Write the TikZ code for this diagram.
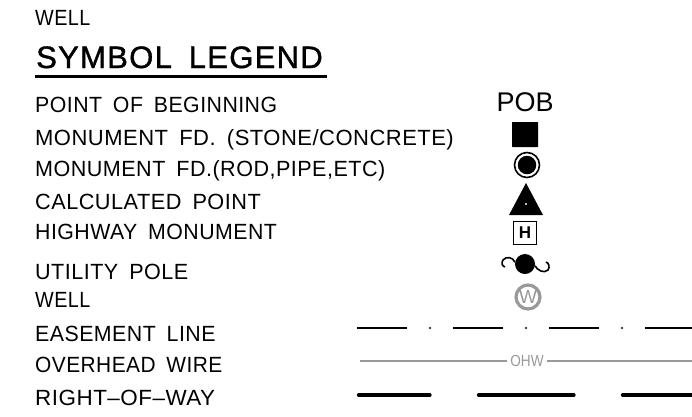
\documentclass[tikz,border=0pt]{standalone}
\usepackage{fontspec}
\setmainfont{Liberation Sans}
\newfontfamily\legendfont[LetterSpace=2.2,WordSpace=1.7]{Liberation Sans}
\newfontfamily\titlefont[LetterSpace=4.2,WordSpace=1.7,FakeBold=1.2]{Liberation Sans}
\usepackage{xcolor}
\definecolor{symbolgray}{HTML}{999999}

\begin{document}
\begin{tikzpicture}[x=1pt,y=-1pt]
		\tikzstyle{rowlabel} = [anchor=base west, inner sep=0pt, font=\legendfont\fontsize{22}{22}\selectfont]
		\tikzstyle{titlelabel} = [anchor=base west, inner sep=0pt, font=\titlefont\fontsize{31}{31}\selectfont]
		\tikzstyle{easeline} = [draw, line width=1.6pt]
		\tikzstyle{wireline} = [draw, symbolgray, line width=1.2pt]
		\tikzstyle{rowline} = [draw, line width=3.2pt, line cap=round]
		\useasboundingbox (0,0) rectangle (692,416);

		% Heading
		\node [rowlabel, xscale=0.9] (wellhead) at (35,25) {WELL};
		\node [titlelabel] (title) at (36,68) {SYMBOL LEGEND};
		\draw [line width=3pt] (35,76) -- (327,76);

		% Labels
		\node [rowlabel, xscale=0.968] (pob) at (35,112) {POINT OF BEGINNING};
		\node [rowlabel] (stone) at (35,145) {MONUMENT FD. (STONE/CONCRETE)};
		\node [rowlabel, xscale=0.98] (rod) at (35,176) {MONUMENT FD.(ROD,PIPE,ETC)};
		\node [rowlabel, xscale=0.987] (calc) at (35,209) {CALCULATED POINT};
		\node [rowlabel, xscale=0.968] (highway) at (35,239) {HIGHWAY MONUMENT};
		\node [rowlabel, xscale=0.98] (utility) at (35,279) {UTILITY POLE};
		\node [rowlabel, xscale=0.9] (well) at (35,307) {WELL};
		\node [rowlabel, xscale=0.97] (easement) at (35,341) {EASEMENT LINE};
		\node [rowlabel, xscale=0.95] (overhead) at (35,372) {OVERHEAD WIRE};
		\node [rowlabel, xscale=1.02] (row) at (35,405) {RIGHT–OF–WAY};

		% Symbols
		\node [inner sep=0pt, font=\fontsize{27}{27}\selectfont] (pobsym) at (525,102) {POB};
		\node [fill=black, rounded corners=0.5pt, minimum width=26pt, minimum height=25pt, inner sep=0pt] (stonesym) at (525,134.5) {};
		\node [circle, draw, line width=1.6pt, minimum size=25pt, inner sep=0pt] (rodsym) at (527,165) {};
		\node [circle, fill=black, minimum size=18.5pt, inner sep=0pt] (roddot) at (527,165) {};
		\fill (526,183) -- (543,215) -- (509,215) -- cycle;
		\fill [white] (526,204) circle (1.2pt);
		\node [draw, line width=1.4pt, minimum width=23pt, minimum height=23pt, inner sep=0pt, font=\bfseries\fontsize{17}{17}\selectfont] (hwysym) at (525,233) {H};
		\node [circle, fill=black, minimum size=20pt, inner sep=0pt] (polesym) at (525,264) {};
		\draw [line width=1.6pt] (polesym.170) .. controls (513,257) and (506,256) .. (503,260) .. controls (501,263) and (502,266) .. (505,267);
		\draw [line width=1.6pt] (polesym.-10) .. controls (537,270) and (544,274) .. (548,270) .. controls (550,267) and (549,263) .. (546,262);
		\node [circle, draw=symbolgray, line width=3.2pt, text=symbolgray, minimum size=24pt, inner sep=0pt, font=\fontsize{19}{19}\selectfont] (wellsym) at (528,297) {W};

		% Easement line
		\draw [easeline] (357,328) -- (407,328);
		\fill (430,328) circle (1.2pt);
		\draw [easeline] (453,328) -- (503,328);
		\fill (526,328) circle (1.2pt);
		\draw [easeline] (549,328) -- (599,328);
		\fill (622,328) circle (1.2pt);
		\draw [easeline] (645,328) -- (692,328);

		% Overhead wire
		\node [inner sep=0pt, text=symbolgray, xscale=0.85, font=\fontsize{16}{16}\selectfont] (ohw) at (527,361) {OHW};
		\coordinate (wirea) at (360,361);
		\coordinate (wireb) at (692,361);
		\draw [wireline] (wirea) -- ([xshift=-3pt]ohw.west);
		\draw [wireline] ([xshift=3pt]ohw.east) -- (wireb);

		% Right of way
		\draw [rowline] (358.5,395) -- (430,395);
		\draw [rowline] (478.5,395) -- (574,395);
		\draw [rowline] (622.5,395) -- (692,395);
\end{tikzpicture}
\end{document}
